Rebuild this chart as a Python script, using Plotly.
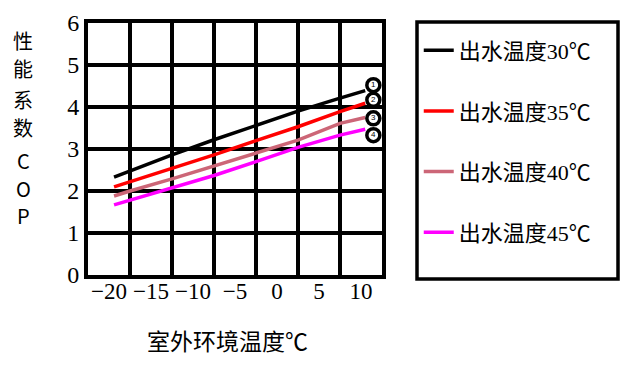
import plotly.graph_objects as go

x_temp = [-19.4, -17.5, -12.5, -7.5, -2.5, 2.5, 7.5, 10.5]
cop_30 = [2.33, 2.48, 2.86, 3.22, 3.57, 3.90, 4.21, 4.39]
cop_35 = [2.10, 2.22, 2.54, 2.86, 3.20, 3.53, 3.89, 4.09]
cop_40 = [1.88, 2.00, 2.29, 2.59, 2.91, 3.21, 3.61, 3.75]
cop_45 = [1.67, 1.78, 2.08, 2.37, 2.70, 3.04, 3.33, 3.47]
series_names = ["出水温度30℃", "出水温度35℃", "出水温度40℃", "出水温度45℃"]
series_colors = ["#000000", "#FF0000", "#CC6677", "#FF00FF"]
marker_x = [11.47, 11.47, 11.47, 11.47]
marker_y = [4.52, 4.17, 3.73, 3.33]
marker_text = ["1", "2", "3", "4"]
x_ticks = [-20, -15, -10, -5, 0, 5, 10]
x_tick_text = ["−20", "−15", "−10", "−5", "0", "5", "10"]
x_grid = [-22.5, -17.5, -12.5, -7.5, -2.5, 2.5, 7.5, 12.5]
y_ticks = [0, 1, 2, 3, 4, 5, 6]
y_title = "性能系数COP"
x_title = "室外环境温度℃"

serif = "Liberation Serif, Noto Sans CJK SC, serif"

fig = go.Figure()
for i, (vals, name, col) in enumerate(zip([cop_30, cop_35, cop_40, cop_45], series_names, series_colors)):
    fig.add_trace(go.Scatter(x=x_temp, y=vals, mode="lines", name=name,
                             line=dict(color=col, width=3.5), legendgroup=str(i)))

fig.add_trace(go.Scatter(x=marker_x, y=marker_y, mode="markers+text", text=marker_text,
                         textposition="middle center",
                         marker=dict(symbol="circle", size=13, color="white",
                                     line=dict(color="black", width=3.5)),
                         textfont=dict(size=8, color="black", family="Liberation Sans"),
                         showlegend=False, cliponaxis=False))

fig.update_layout(
    width=624, height=370,
    margin=dict(l=88, r=242, t=23, b=95, autoexpand=False),
    plot_bgcolor="white", paper_bgcolor="white",
    font=dict(family=serif, color="black", size=22),
    legend=dict(x=1.125, y=0.974, xanchor="left", yanchor="top",
                font=dict(size=22, family=serif), tracegroupgap=29,
                bgcolor="rgba(0,0,0,0)", itemwidth=30),
)
fig.update_xaxes(range=[-22.5, 12.5], tickvals=x_ticks, ticktext=x_tick_text, showgrid=False,
                 showline=True, linecolor="black", linewidth=4, mirror=True, automargin=False,
                 ticks="", zeroline=False, tickfont=dict(size=23, family=serif),
                 ticklabelstandoff=-8,
                 minor=dict(tickvals=x_grid, showgrid=True, gridcolor="black", gridwidth=4, ticks=""))
fig.update_yaxes(range=[0, 6], tickvals=y_ticks, showgrid=True, gridcolor="black", gridwidth=4,
                 showline=True, linecolor="black", linewidth=4, mirror=True, automargin=False,
                 ticks="", zeroline=False, tickfont=dict(size=24, family=serif))

# legend box
fig.add_shape(type="rect", xref="paper", yref="paper", x0=(417 - 88) / 294, x1=(618 - 88) / 294,
              y0=(275 - 279) / 252, y1=(275 - 22) / 252,
              line=dict(color="black", width=3.5), fillcolor="rgba(0,0,0,0)")

# vertical y-axis title
ys = [40, 68, 99, 128, 160, 188, 215]
for ch, py in zip(y_title, ys):
    fig.add_annotation(text=ch, xref="paper", yref="paper", x=(23 - 88) / 294, y=(275 - py) / 252,
                       xanchor="center", yanchor="middle", showarrow=False,
                       font=dict(size=20, family="Noto Sans CJK SC, Liberation Sans, sans-serif"))

fig.add_annotation(text=x_title, xref="paper", yref="paper", x=(227 - 88) / 294, y=(275 - 342) / 252,
                   xanchor="center", yanchor="middle", showarrow=False,
                   font=dict(size=23, family=serif))

fig.write_html("out.html", config={"displayModeBar": False},
               post_script="document.body.style.margin='0';")
